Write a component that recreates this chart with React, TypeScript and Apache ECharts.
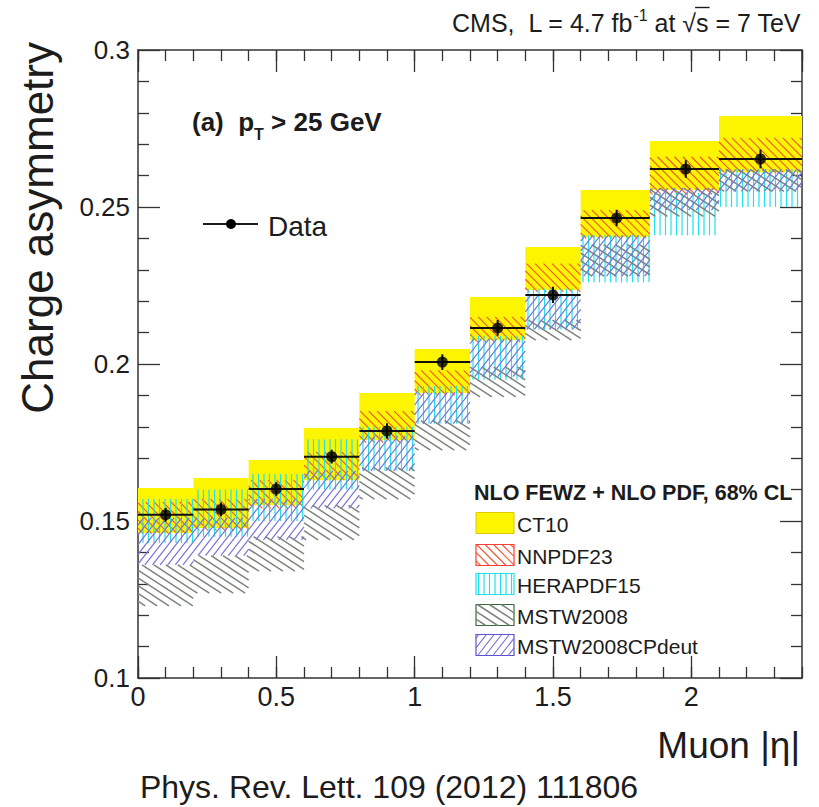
import React, { useEffect, useRef } from "react";
import * as echarts from "echarts";

// ---------- data ----------
const binLo = [0, 0.2, 0.4, 0.6, 0.8, 1.0, 1.2, 1.4, 1.6, 1.85, 2.1];
const binHi = [0.2, 0.4, 0.6, 0.8, 1.0, 1.2, 1.4, 1.6, 1.85, 2.1, 2.4];
const dataX = [0.1, 0.3, 0.5, 0.7, 0.9, 1.1, 1.3, 1.5, 1.73, 1.98, 2.25];
const dataY = [0.152, 0.1537, 0.1602, 0.1705, 0.1787, 0.2006, 0.2115, 0.222, 0.2465, 0.2621, 0.2653];
const dataErr = [0.0022, 0.0022, 0.0022, 0.0022, 0.0024, 0.0025, 0.0025, 0.0026, 0.0026, 0.0028, 0.003];

const ct10Lo = [0.1462, 0.1478, 0.155, 0.163, 0.1758, 0.1908, 0.2076, 0.2236, 0.2404, 0.2554, 0.2611];
const ct10Hi = [0.1605, 0.1637, 0.1694, 0.1796, 0.1908, 0.2048, 0.2213, 0.2373, 0.2554, 0.271, 0.279];
const nnpdfLo = [0.146, 0.147, 0.154, 0.163, 0.175, 0.19, 0.207, 0.223, 0.24, 0.254, 0.261];
const nnpdfHi = [0.156, 0.157, 0.163, 0.172, 0.185, 0.198, 0.215, 0.232, 0.249, 0.266, 0.272];
const heraLo = [0.143, 0.145, 0.15, 0.16, 0.166, 0.181, 0.195, 0.211, 0.226, 0.241, 0.25];
const heraHi = [0.157, 0.16, 0.165, 0.176, 0.18, 0.193, 0.209, 0.224, 0.241, 0.2545, 0.262];
const mstwLo = [0.123, 0.127, 0.134, 0.144, 0.157, 0.1726, 0.1895, 0.2076, 0.228, 0.247, 0.255];
const mstwHi = [0.136, 0.139, 0.145, 0.155, 0.167, 0.182, 0.199, 0.214, 0.238, 0.256, 0.262];
const cpdeutLo = [0.136, 0.139, 0.144, 0.154, 0.166, 0.181, 0.196, 0.211, 0.228, 0.249, 0.255];
const cpdeutHi = [0.151, 0.151, 0.157, 0.166, 0.177, 0.191, 0.208, 0.222, 0.241, 0.256, 0.262];

const legendNames = ["CT10", "NNPDF23", "HERAPDF15", "MSTW2008", "MSTW2008CPdeut"];

// ---------- styles ----------
const FONT = '"Liberation Sans", Arial, sans-serif';
const INK = "#1c1c1c";
const YELLOW = "#fdf500";
type Pat = { fill?: string; angle?: number; spacing?: number; color?: string; width?: number; border?: string };
const patterns: Pat[] = [
  { fill: YELLOW, border: "#e2c400" },
  { angle: 45, spacing: 6, color: "#f0552e", width: 1.1, border: "#ff3a3a" },
  { angle: 90, spacing: 5.5, color: "#1fe3ea", width: 1.2, border: "#1fe3ea" },
  { angle: 33, spacing: 6.5, color: "#7d857d", width: 1.5, border: "#3a6a3a" },
  { angle: -52, spacing: 6, color: "#7a72d8", width: 1.2, border: "#5a50d0" },
];

function hatchLines(x0: number, y0: number, x1: number, y1: number, p: Pat) {
  const th = ((p.angle || 0) * Math.PI) / 180;
  const dx = Math.cos(th), dy = Math.sin(th);
  const nx = -dy, ny = dx;
  const s = p.spacing || 6;
  const proj = [
    [x0, y0], [x1, y0], [x0, y1], [x1, y1],
  ].map(([x, y]) => x * nx + y * ny);
  const cmin = Math.min(...proj), cmax = Math.max(...proj);
  const out: any[] = [];
  for (let k = Math.ceil(cmin / s); k * s <= cmax; k++) {
    const c = k * s;
    const px = c * nx, py = c * ny;
    let tmin = -1e9, tmax = 1e9;
    if (Math.abs(dx) > 1e-9) {
      let a = (x0 - px) / dx, b = (x1 - px) / dx;
      if (a > b) [a, b] = [b, a];
      tmin = Math.max(tmin, a); tmax = Math.min(tmax, b);
    } else if (px < x0 || px > x1) continue;
    if (Math.abs(dy) > 1e-9) {
      let a = (y0 - py) / dy, b = (y1 - py) / dy;
      if (a > b) [a, b] = [b, a];
      tmin = Math.max(tmin, a); tmax = Math.min(tmax, b);
    } else if (py < y0 || py > y1) continue;
    if (tmax - tmin < 0.8) continue;
    out.push({
      type: "line",
      silent: true,
      shape: { x1: px + tmin * dx, y1: py + tmin * dy, x2: px + tmax * dx, y2: py + tmax * dy },
      style: { stroke: p.color, lineWidth: p.width },
    });
  }
  return out;
}

function bandSeries(name: string, lo: number[], hi: number[], p: Pat, z: number) {
  return {
    type: "custom",
    name,
    z,
    clip: true,
    silent: true,
    data: binLo.map((b, i) => [b, binHi[i], lo[i], hi[i]]),
    encode: { x: [0, 1], y: [2, 3] },
    renderItem: (_params: any, api: any) => {
      const a = api.coord([api.value(0), api.value(3)]);
      const b = api.coord([api.value(1), api.value(2)]);
      const x0 = Math.min(a[0], b[0]), x1 = Math.max(a[0], b[0]);
      const y0 = Math.min(a[1], b[1]), y1 = Math.max(a[1], b[1]);
      if (p.fill) {
        return { type: "rect", shape: { x: x0, y: y0, width: x1 - x0, height: y1 - y0 }, style: { fill: p.fill } };
      }
      return { type: "group", children: hatchLines(x0, y0, x1, y1, p) };
    },
  };
}

let measureCtx: CanvasRenderingContext2D | null = null;
function measure(t: string, font: string) {
  if (!measureCtx) measureCtx = document.createElement("canvas").getContext("2d");
  measureCtx!.font = font;
  return measureCtx!.measureText(t).width;
}

function txt(x: number, y: number, text: string, font: string, align = "left", vAlign = "middle", extra: any = {}) {
  return {
    type: "text",
    x,
    y,
    silent: true,
    ...extra,
    style: { text, font, fill: INK, align, verticalAlign: vAlign, textAlign: align, textVerticalAlign: vAlign },
  };
}

function buildGraphics() {
  const g: any[] = [];
  // header
  const big = `25px ${FONT}`;
  const small = `16px ${FONT}`;
  const pieces = [
    { t: "CMS,  L = 4.7 fb", f: big, dy: 0 },
    { t: "-1", f: small, dy: -8 },
    { t: " at ", f: big, dy: 0 },
    { t: "\u221A", f: big, dy: 0 },
    { t: "s", f: big, dy: 0 },
    { t: " = 7 TeV", f: big, dy: 0 },
  ];
  const total = pieces.reduce((s, p) => s + measure(p.t, p.f), 0);
  let x = 801 - total;
  let sX = 0, sW = 0;
  pieces.forEach((p) => {
    g.push(txt(x, 23 + p.dy, p.t, p.f));
    const w = measure(p.t, p.f);
    if (p.t === "s") { sX = x; sW = w; }
    x += w;
  });
  g.push({ type: "line", silent: true, shape: { x1: sX - 1, y1: 7.5, x2: sX + sW + 1, y2: 7.5 }, style: { stroke: INK, lineWidth: 1.4 } });

  // (a) pT > 25 GeV
  const bf = `bold 26px ${FONT}`;
  const bs = `bold 16px ${FONT}`;
  let ax = 192;
  [{ t: "(a)  p", f: bf, dy: 0 }, { t: "T", f: bs, dy: 12 }, { t: " > 25 GeV", f: bf, dy: 0 }].forEach((p) => {
    g.push(txt(ax, 122 + p.dy, p.t, p.f));
    ax += measure(p.t, p.f);
  });

  // Data legend
  g.push({ type: "line", silent: true, shape: { x1: 203, y1: 224, x2: 258, y2: 224 }, style: { stroke: INK, lineWidth: 2 } });
  g.push({ type: "circle", silent: true, shape: { cx: 231, cy: 224, r: 5 }, style: { fill: "#000" } });
  g.push(txt(268, 226, "Data", `28px ${FONT}`));

  // PDF legend
  g.push(txt(474, 493, "NLO FEWZ + NLO PDF, 68% CL", `bold 21.5px ${FONT}`));
  const yc = [523, 555, 584, 615, 645];
  legendNames.forEach((n, i) => {
    const p = patterns[i];
    const bx = 476, bw = 38, bh = 21, by = yc[i] - bh / 2;
    if (p.fill) {
      g.push({ type: "rect", silent: true, shape: { x: bx, y: by, width: bw, height: bh }, style: { fill: p.fill, stroke: p.border, lineWidth: 1 } });
    } else {
      g.push({ type: "rect", silent: true, shape: { x: bx, y: by, width: bw, height: bh }, style: { fill: "#fff", stroke: p.border, lineWidth: 1.2 } });
      hatchLines(bx, by, bx + bw, by + bh, p).forEach((l) => g.push(l));
    }
    g.push(txt(517, yc[i] + 1, n, `21px ${FONT}`));
  });

  // axis titles
  g.push(txt(37, 42, "Charge asymmetry", `44px ${FONT}`, "right", "middle", { rotation: Math.PI / 2 }));
  g.push(txt(800, 745, "Muon |\u03B7|", `37px ${FONT}`, "right"));
  g.push(txt(389, 787, "Phys. Rev. Lett. 109 (2012) 111806", `32px ${FONT}`, "center"));
  return g;
}

function xAx(position: string, interval: number, major: boolean, labels: boolean) {
  return {
    type: "value",
    position,
    min: 0,
    max: 2.4,
    interval,
    axisLine: { show: major, onZero: false, lineStyle: { color: "#333", width: 1.5 } },
    axisTick: { show: true, inside: true, length: major ? 22 : 11, lineStyle: { color: "#333", width: 1.3 } },
    axisLabel: {
      show: labels,
      margin: 5,
      fontSize: 27,
      fontFamily: FONT,
      color: INK,
      showMaxLabel: false,
    },
    splitLine: { show: false },
  };
}

function yAx(position: string, labels: boolean) {
  return {
    type: "value",
    position,
    min: 0.1,
    max: 0.3,
    interval: 0.05,
    axisLine: { show: true, onZero: false, lineStyle: { color: "#333", width: 1.5 } },
    axisTick: { show: true, inside: true, length: 22, lineStyle: { color: "#333", width: 1.3 } },
    minorTick: { show: true, splitNumber: 5, length: 11, lineStyle: { color: "#333", width: 1.3 } },
    axisLabel: { show: labels, margin: 8, fontSize: 26, fontFamily: FONT, color: INK },
    splitLine: { show: false },
    minorSplitLine: { show: false },
  };
}

export default function App() {
  const ref = useRef<HTMLDivElement>(null);
  useEffect(() => {
    if (!ref.current) return;
    const chart = echarts.init(ref.current, undefined, { renderer: "svg" });
    const option: any = {
      animation: false,
      backgroundColor: "#fff",
      grid: { left: 138, right: 17, top: 50, bottom: 129, containLabel: false },
      xAxis: [
        xAx("bottom", 0.5, true, true),
        xAx("bottom", 0.1, false, false),
        xAx("top", 0.5, true, false),
        xAx("top", 0.1, false, false),
      ],
      yAxis: [yAx("left", true), yAx("right", false)],
      series: [
        bandSeries(legendNames[0], ct10Lo, ct10Hi, patterns[0], 1),
        bandSeries(legendNames[1], nnpdfLo, nnpdfHi, patterns[1], 2),
        bandSeries(legendNames[2], heraLo, heraHi, patterns[2], 3),
        bandSeries(legendNames[3], mstwLo, mstwHi, patterns[3], 4),
        bandSeries(legendNames[4], cpdeutLo, cpdeutHi, patterns[4], 5),
        {
          type: "custom",
          name: "Data errors",
          z: 10,
          silent: true,
          data: dataX.map((x, i) => [x, binLo[i], binHi[i], dataY[i], dataErr[i]]),
          encode: { x: [1, 2], y: 3 },
          renderItem: (_p: any, api: any) => {
            const y = api.value(3), e = api.value(4);
            const l = api.coord([api.value(1), y]);
            const r = api.coord([api.value(2), y]);
            const t = api.coord([api.value(0), y + e]);
            const b = api.coord([api.value(0), y - e]);
            const st = { stroke: "#111", lineWidth: 2 };
            return {
              type: "group",
              children: [
                { type: "line", shape: { x1: l[0], y1: l[1], x2: r[0], y2: r[1] }, style: st },
                { type: "line", shape: { x1: t[0], y1: t[1], x2: b[0], y2: b[1] }, style: st },
              ],
            };
          },
        },
        {
          type: "scatter",
          name: "Data",
          z: 11,
          symbol: "circle",
          symbolSize: 11,
          itemStyle: { color: "#000" },
          data: dataX.map((x, i) => [x, dataY[i]]),
        },
      ],
      graphic: buildGraphics(),
    };
    chart.setOption(option);
    return () => chart.dispose();
  }, []);
  return <div ref={ref} style={{ width: 819, height: 807, position: "absolute", left: 0, top: 0 }} />;
}
